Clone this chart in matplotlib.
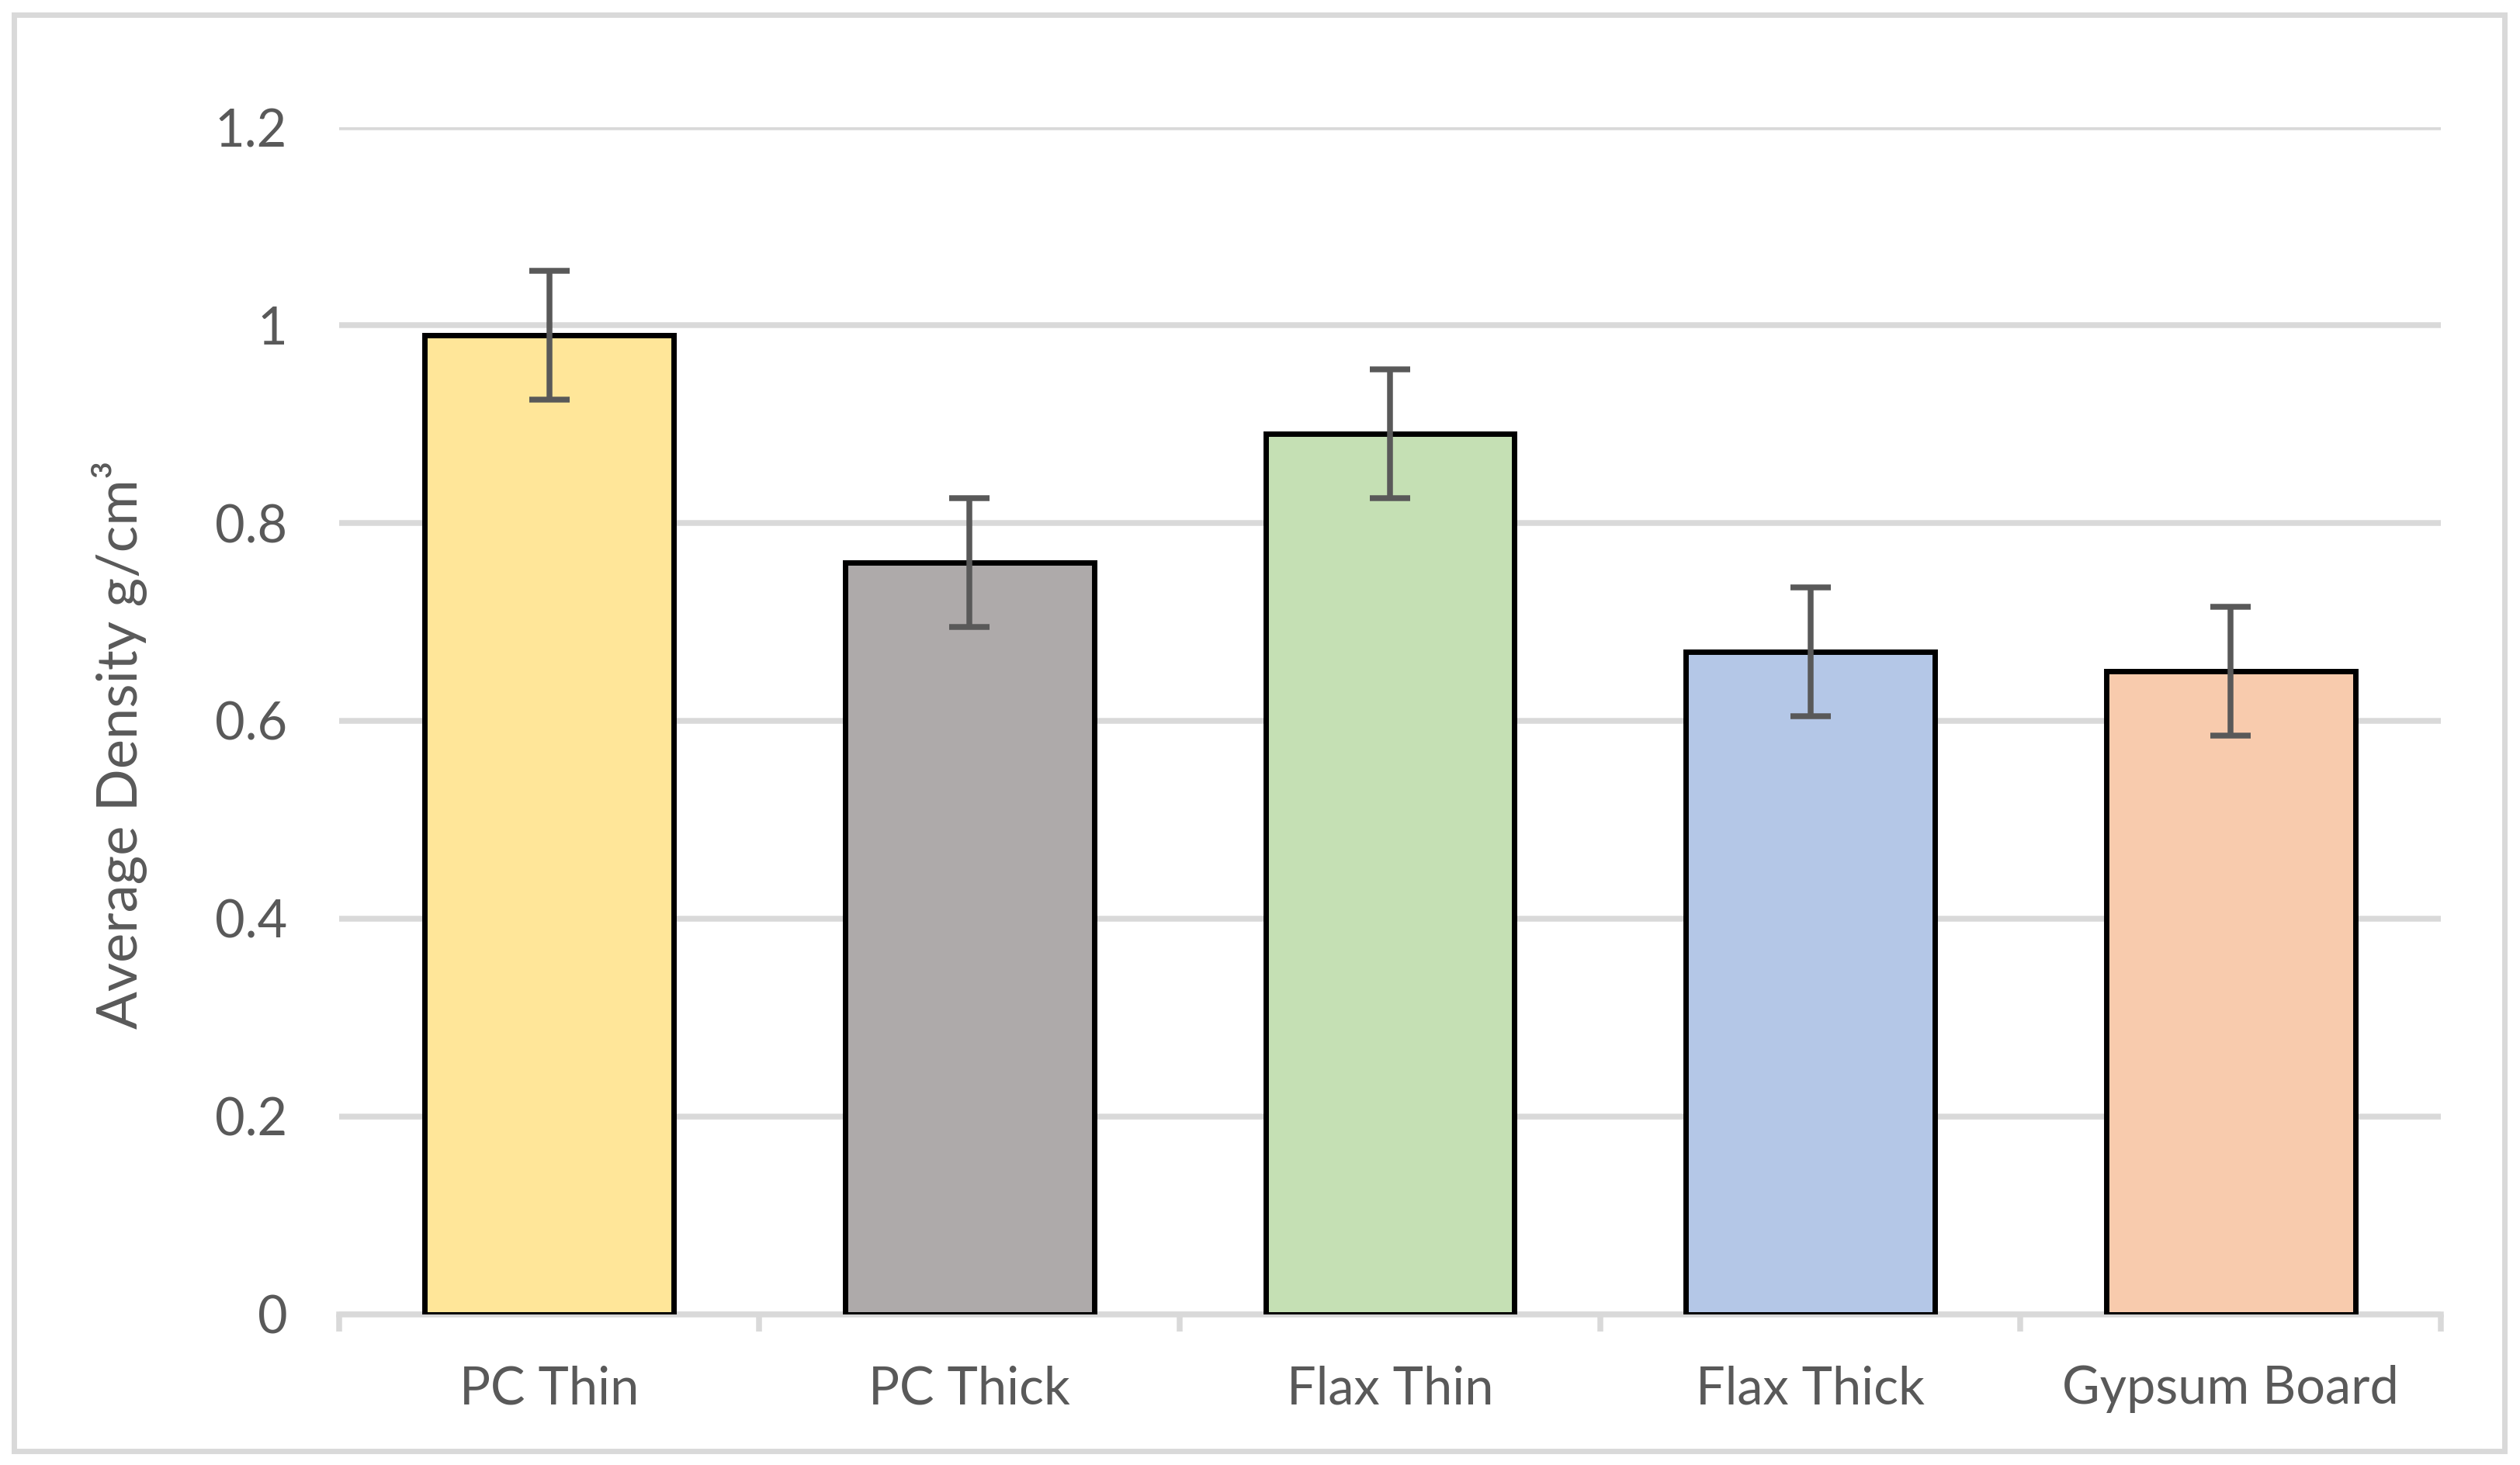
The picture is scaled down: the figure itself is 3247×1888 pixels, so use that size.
import matplotlib
matplotlib.use("Agg")
import matplotlib.pyplot as plt
from matplotlib.patches import Rectangle
import numpy as np

# data
categories = ["PC Thin", "PC Thick", "Flax Thin", "Flax Thick", "Gypsum Board"]
density = [0.99, 0.76, 0.89, 0.67, 0.65]
errors = [0.065, 0.065, 0.065, 0.065, 0.065]
bar_colors = ["#FFE699", "#AEAAAA", "#C5E0B4", "#B4C7E7", "#F8CBAD"]
y_ticks = [0, 0.2, 0.4, 0.6, 0.8, 1.0, 1.2]
y_tick_labels = ["0", "0.2", "0.4", "0.6", "0.8", "1", "1.2"]

plt.rcParams['font.family'] = ['Lato', 'DejaVu Sans']
text_color = "#595959"
grid_color = "#D9D9D9"

fig = plt.figure(figsize=(16.24, 9.44), dpi=200)
ax = fig.add_axes([0.1345, 0.1028, 0.8338, 0.8103])

x = np.arange(len(categories))
ax.bar(x, density, width=0.592, color=bar_colors, edgecolor="black",
       linewidth=2.5, zorder=3)
ax.errorbar(x, density, yerr=errors, fmt="none", ecolor=text_color,
            elinewidth=2.7, capsize=9.5, capthick=2.7, zorder=4)

# axes and grid
ax.set_xlim(-0.5, len(categories) - 0.5)
ax.set_ylim(0, 1.2)
ax.set_yticks(y_ticks)
ax.set_yticklabels(y_tick_labels)
ax.yaxis.grid(True, color=grid_color, linewidth=2.7, zorder=0)
ax.set_axisbelow(True)

for side in ["top", "right", "left"]:
    ax.spines[side].set_visible(False)
ax.spines["bottom"].set_color(grid_color)
ax.spines["bottom"].set_linewidth(2.7)
ax.spines["bottom"].set_zorder(2)

# x ticks sit on category boundaries, labels in the middle
ax.set_xticks(np.arange(len(categories) + 1) - 0.5)
ax.set_xticklabels([])
ax.set_xticks(x, minor=True)
ax.set_xticklabels(categories, minor=True)
ax.tick_params(axis="x", which="major", length=8, width=2.7, color=grid_color)
ax.tick_params(axis="x", which="minor", length=0, pad=23.5, labelsize=24,
               labelcolor=text_color)
ax.tick_params(axis="y", length=0, pad=24, labelsize=24, labelcolor=text_color)

ax.set_ylabel("Average Density g/cm³", fontsize=26, color=text_color)
ax.yaxis.set_label_coords(-0.091, 0.48)

# light frame around the whole chart
fig.patches.append(Rectangle((0.0055, 0.0095), 0.988, 0.9805, transform=fig.transFigure,
                             fill=False, edgecolor=grid_color, linewidth=2.5))

fig.savefig("out.png", dpi=200, facecolor="white")
